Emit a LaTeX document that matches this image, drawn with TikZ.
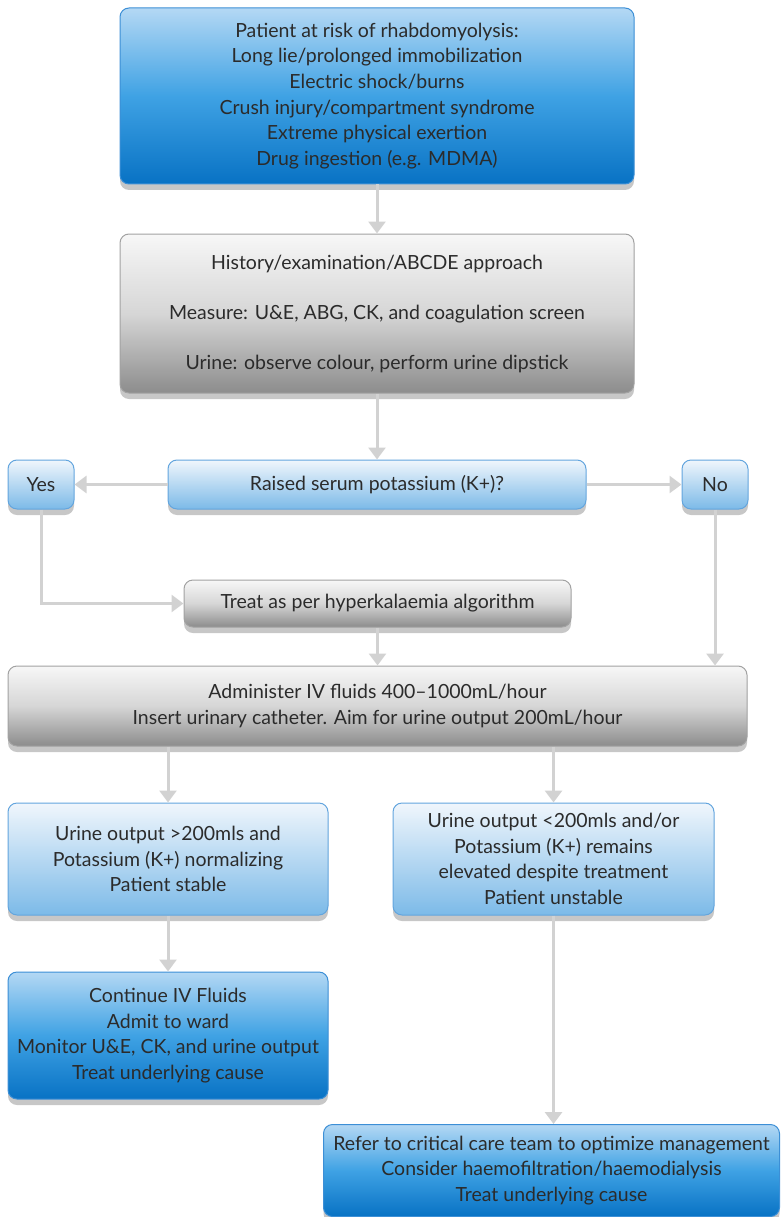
\documentclass[tikz,border=0pt]{standalone}
\usepackage{fontspec}
\setmainfont{Lato}
\usepackage{tikz}
\usetikzlibrary{arrows.meta,shadows,positioning}
\definecolor{ink}{HTML}{2B2B2B}
\definecolor{arrgrey}{HTML}{D2D2D2}
\definecolor{bluetop}{HTML}{B4D8F4}
\definecolor{bluemid}{HTML}{3FA2E4}
\definecolor{bluebot}{HTML}{0872C4}
\definecolor{blueline}{HTML}{3C8FD6}
\definecolor{paletop}{HTML}{F0F6FC}
\definecolor{palebot}{HTML}{7CBAE8}
\definecolor{greytop}{HTML}{F7F7F7}
\definecolor{greymid}{HTML}{D6D6D6}
\definecolor{greybot}{HTML}{8C8C8C}
\definecolor{greyline}{HTML}{A2A2A2}
\tikzset{
  box/.style={rounded corners=9pt,align=center,text=ink,inner sep=2pt,
    font=\fontsize{19.5}{25.7}\selectfont,
    drop shadow={shadow xshift=0pt,shadow yshift=-6pt,opacity=0.22,fill=black}},
  bluebox/.style={box,draw=blueline,line width=1pt,top color=bluetop,bottom color=bluebot,middle color=bluemid},
  palebox/.style={box,draw=blueline!80,line width=1pt,top color=paletop,bottom color=palebot},
  greybox/.style={box,draw=greyline,line width=1pt,top color=greytop,bottom color=greybot,middle color=greymid},
  arr/.style={draw=arrgrey,line width=3pt,-{Triangle[width=17pt,length=12pt]}}
}
\begin{document}
\begin{tikzpicture}[x=1pt,y=-1pt]
  \useasboundingbox (0,0) rectangle (780,1217);
  \node[bluebox,minimum width=514pt,minimum height=176pt] (risk) at (377,96)
    {Patient at risk of rhabdomyolysis:\\Long lie/prolonged immobilization\\Electric shock/burns\\Crush injury/compartment syndrome\\Extreme physical exertion\\Drug ingestion (e.g. MDMA)};
  \node[greybox,minimum width=514pt,minimum height=159pt] (hist) at (377,313.5)
    {History/examination/ABCDE approach\\[24.3pt]Measure: U\&E, ABG, CK, and coagulation screen\\[24.3pt]Urine: observe colour, perform urine dipstick};
  \node[palebox,minimum width=418pt,minimum height=49pt] (kq) at (377,484.5) {Raised serum potassium (K+)?};
  \node[palebox,minimum width=66pt,minimum height=49pt] (yes) at (41,484.5) {Yes};
  \node[palebox,minimum width=66pt,minimum height=49pt] (no) at (715,484.5) {No};
  \node[greybox,minimum width=387pt,minimum height=47pt] (hyper) at (377.5,603.5) {Treat as per hyperkalaemia algorithm};
  \node[greybox,minimum width=739pt,minimum height=80pt] (fluids) at (377.5,706)
    {Administer IV fluids 400--1000mL/hour\\Insert urinary catheter. Aim for urine output 200mL/hour};
  \node[palebox,minimum width=320pt,minimum height=112pt] (good) at (168,859)
    {Urine output >200mls and\\Potassium (K+) normalizing\\Patient stable};
  \node[palebox,minimum width=321pt,minimum height=112pt] (bad) at (553.5,859)
    {Urine output <200mls and/or\\Potassium (K+) remains\\elevated despite treatment\\Patient unstable};
  \node[bluebox,minimum width=320pt,minimum height=127pt] (ward) at (168,1035.5)
    {Continue IV Fluids\\Admit to ward\\Monitor U\&E, CK, and urine output\\Treat underlying cause};
  \node[bluebox,minimum width=456pt,minimum height=92pt] (icu) at (551.5,1170.5)
    {Refer to critical care team to optimize management\\Consider haemofiltration/haemodialysis\\Treat underlying cause};

  \draw[arr] (risk) -- (hist);
  \draw[arr] (hist) -- (kq);
  \draw[arr] (kq) -- (yes);
  \draw[arr] (kq) -- (no);
  \draw[arr] (yes.south) |- (hyper.west);
  \draw[arr] (hyper) -- (hyper.south |- fluids.north);
  \draw[arr] (no) -- (no.south |- fluids.north);
  \draw[arr] (good.north |- fluids.south) -- (good);
  \draw[arr] (bad.north |- fluids.south) -- (bad);
  \draw[arr] (good) -- (ward);
  \draw[arr] (bad) -- (bad.south |- icu.north);
\end{tikzpicture}
\end{document}
